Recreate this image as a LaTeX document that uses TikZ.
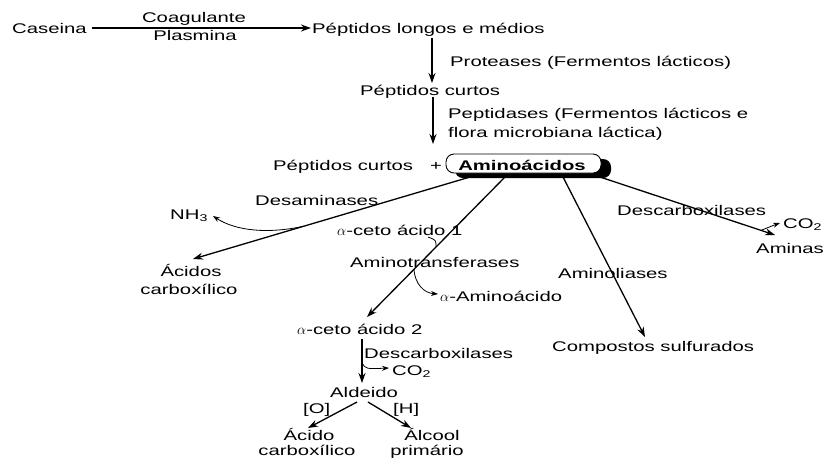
\documentclass[tikz,border=0pt]{standalone}
\usepackage{fontspec}
\setmainfont[FakeStretch=1.45]{Liberation Sans}
\usetikzlibrary{arrows.meta,calc}
\begin{document}
\begin{tikzpicture}[x=1pt,y=-1pt,
  font=\fontsize{14}{16}\selectfont,
  txt/.style={inner sep=0pt,anchor=base west},
  ctxt/.style={inner sep=0pt,anchor=base},
  conn/.style={line width=1.3pt,-{Stealth[length=10pt,width=7pt]}},
  side/.style={line width=0.8pt,-{Stealth[length=7pt,width=5pt]}},
  joinc/.style={line width=0.8pt}]
\useasboundingbox[fill=white] (0,0) rectangle (826,459);

% top chain
\node[txt] (cas) at (12,33) {Caseina};
\node[ctxt] (coag) at (194,22) {Coagulante};
\node[ctxt] (plas) at (195,40) {Plasmina};
\node[txt] (plm) at (312,33) {Péptidos longos e médios};
\coordinate (a1s) at (92,28);
\coordinate (a1e) at (311,28);
\draw[conn] (a1s) -- (a1e);

\coordinate (a2s) at (432,38);
\coordinate (a2e) at (432,83);
\draw[conn] (a2s) -- (a2e);
\node[txt] (prot) at (450,66) {Proteases (Fermentos lácticos)};
\node[txt] (pc1) at (360,95) {Péptidos curtos};

\coordinate (a3s) at (433,97);
\coordinate (a3e) at (433,144);
\draw[conn] (a3s) -- (a3e);
\node[txt] (pep1) at (448,118) {Peptidases (Fermentos lácticos e};
\node[txt] (pep2) at (448,137) {flora microbiana láctica)};

% amino acids box
\node[txt] (pc2) at (273,170) {Péptidos curtos};
\node[ctxt] (plus) at (436,170) {+};
\fill[black,rounded corners=8pt] (455,159) rectangle (611,178);
\draw[line width=0.9pt,fill=white,rounded corners=8pt] (446,154) rectangle (601,173);
\node[ctxt,font=\fontsize{14}{16}\selectfont\bfseries] (aa) at (522,170) {Aminoácidos};

% branch 1: desaminases
\coordinate (b1s) at (470,177);
\coordinate (b1e) at (193,259);
\draw[conn] (b1s) -- (b1e);
\node[txt] (desam) at (255,205) {Desaminases};
\node[txt] (nh3) at (170,219) {NH\textsubscript{3}};
\draw[side] ($(b1s)!0.6!(b1e)$) .. controls (268,234) and (236,231) .. (213,216);
\node[ctxt] (ac1) at (191,276) {Ácidos};
\node[ctxt] (ac2) at (189,294) {carboxílico};

% branch 2: aminotransferases
\coordinate (b2s) at (505,177);
\coordinate (b2e) at (367,317);
\draw[conn] (b2s) -- (b2e);
\node[txt] (ceto1) at (337,235) {$\alpha$-ceto ácido 1};
\draw[joinc] (428,237) .. controls (436,240) .. ($(b2s)!0.5!(b2e)$);
\node[txt] (amtr) at (350,267) {Aminotransferases};
\draw[side] ($(b2s)!0.66!(b2e)$) .. controls (415,284) and (424,293) .. (438,294);
\node[txt] (aamin) at (440,301) {$\alpha$-Aminoácido};
\node[txt] (ceto2) at (297,334) {$\alpha$-ceto ácido 2};

\coordinate (c1s) at (362,339);
\coordinate (c1e) at (362,383);
\draw[conn] (c1s) -- (c1e);
\node[txt] (desc2) at (364,358) {Descarboxilases};
\draw[side] ($(c1s)!0.55!(c1e)$) .. controls (366,369) .. (389,368);
\node[txt] (co2b) at (392,375) {CO\textsubscript{2}};
\node[txt] (ald) at (330,397) {Aldeido};
\coordinate (d1s) at (357,402);
\coordinate (d1e) at (308,428);
\coordinate (d2s) at (368,402);
\coordinate (d2e) at (411,428);
\draw[conn] (d1s) -- (d1e);
\draw[conn] (d2s) -- (d2e);
\node[txt] (ox) at (303,413) {[O]};
\node[txt] (hy) at (393,413) {[H]};
\node[ctxt] (acd1) at (309,440) {Ácido};
\node[ctxt] (acd2) at (307,455) {carboxílico};
\node[ctxt] (alc1) at (432,440) {Álcool};
\node[ctxt] (alc2) at (427,455) {primário};

% branch 3: aminoliases
\coordinate (b3s) at (563,177);
\coordinate (b3e) at (645,337);
\draw[conn] (b3s) -- (b3e);
\node[txt] (amli) at (558,278) {Aminoliases};
\node[txt] (sulf) at (552,351) {Compostos sulfurados};

% branch 4: descarboxilases
\coordinate (b4s) at (600,177);
\coordinate (b4e) at (775,235);
\draw[conn] (b4s) -- (b4e);
\node[txt] (desc1) at (617,215) {Descarboxilases};
\draw[side] ($(b4s)!0.92!(b4e)$) .. controls (768,227) .. (780,223);
\node[txt] (co2a) at (783,228) {CO\textsubscript{2}};
\node[txt] (amin) at (756,253) {Aminas};
\end{tikzpicture}
\end{document}
